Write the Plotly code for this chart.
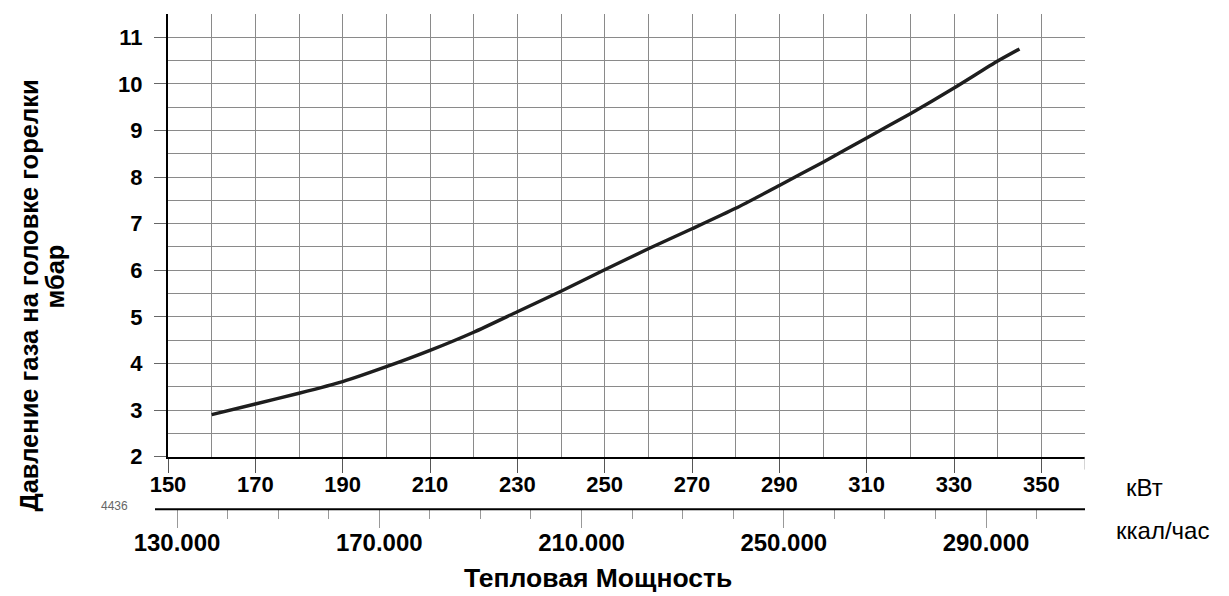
import plotly.graph_objects as go

# ---- data ----
power_kw = [160, 170, 180, 190, 200, 210, 220, 230, 240, 250, 260, 270, 280, 290, 300, 310, 320, 330, 340, 345]
pressure_mbar = [2.90, 3.13, 3.36, 3.61, 3.93, 4.28, 4.67, 5.11, 5.55, 6.01, 6.46, 6.89, 7.33, 7.82, 8.32, 8.84, 9.36, 9.91, 10.49, 10.75]

kw_ticks = [150, 170, 190, 210, 230, 250, 270, 290, 310, 330, 350]
y_ticks = [2, 3, 4, 5, 6, 7, 8, 9, 10, 11]
kcal_ticks = [130000, 170000, 210000, 250000, 290000]
kcal_labels = ["130.000", "170.000", "210.000", "250.000", "290.000"]

# page has an 8px body margin; figure sized to fit the window
OFF = 8
W, H = 1229 - OFF, 596 - OFF
L = 168 - OFF
R = W - (1085 - OFF)
T = 14 - OFF
B = H - (580 - OFF)
paper_h = H - T - B
paper_w = W - L - R


def py(page_px):
    return (H - B - (page_px - OFF)) / paper_h


def pxx(page_px):
    return (page_px - OFF - L) / paper_w


FONT = "Liberation Sans, Arial, sans-serif"
GRID = "#8a8a8a"

fig = go.Figure()
fig.add_trace(go.Scatter(
    x=power_kw, y=pressure_mbar, mode="lines",
    line=dict(color="#1e1e1e", width=3.4, shape="spline", smoothing=0.6),
    showlegend=False, hoverinfo="skip",
))
# invisible trace to activate the secondary axis
fig.add_trace(go.Scatter(x=[kcal_ticks[0]], y=[None], xaxis="x2", yaxis="y",
                         mode="markers", showlegend=False, hoverinfo="skip"))

fig.update_layout(
    width=W, height=H,
    margin=dict(l=L, r=R, t=T, b=B),
    paper_bgcolor="white", plot_bgcolor="white",
    font=dict(family=FONT, color="black"),
    xaxis=dict(
        range=[150, 360], tickmode="array", tickvals=kw_ticks,
        ticks="outside", ticklen=14, tickwidth=1, tickcolor="#555",
        showline=True, linecolor="black", linewidth=2,
        showgrid=True, gridcolor=GRID, gridwidth=1,
        minor=dict(dtick=10, tick0=150, showgrid=True, gridcolor=GRID, gridwidth=1, ticks=""),
        tickfont=dict(family=FONT, size=22, weight="bold", color="black"),
        anchor="y", zeroline=False, ticklabelstandoff=-7,
    ),
    xaxis2=dict(
        range=[128220, 309580], overlaying="x", anchor="free", position=py(512),
        side="bottom", tickmode="array", tickvals=kcal_ticks, ticktext=kcal_labels,
        ticks="outside", ticklen=18, tickwidth=1, tickcolor="#999",
        minor=dict(tick0=130000, dtick=10000, ticks="outside", ticklen=9, tickwidth=1, tickcolor="#999", showgrid=False),
        showline=False, showgrid=False, zeroline=False,
        tickfont=dict(family=FONT, size=24, weight="bold", color="black"),
        ticklabelstandoff=-6,
    ),
    yaxis=dict(
        range=[2, 11.5], domain=[py(459), 1], tickmode="array", tickvals=y_ticks,
        ticks="outside", ticklen=12, tickwidth=1, tickcolor="#666",
        showline=True, linecolor="black", linewidth=2,
        showgrid=True, gridcolor=GRID, gridwidth=1,
        minor=dict(dtick=0.5, tick0=2, showgrid=True, gridcolor=GRID, gridwidth=1, ticks=""),
        tickfont=dict(family=FONT, size=22, weight="bold", color="black"),
        zeroline=False, ticklabelstandoff=7,
    ),
)

# secondary axis line (extends slightly left of the plot)
fig.add_shape(type="line", xref="paper", yref="paper",
              x0=pxx(155), x1=pxx(1085), y0=py(512), y1=py(512),
              line=dict(color="black", width=2))
# short tick below the right edge of the kW axis
fig.add_shape(type="line", xref="x", yref="paper", x0=360, x1=360,
              y0=py(459), y1=py(472), line=dict(color="#aaa", width=1))

ann = [
    dict(text="Давление газа на головке горелки", x=pxx(28), y=py(297), textangle=-90,
         font=dict(size=25.5, weight="bold")),
    dict(text="мбар", x=pxx(55), y=py(278), textangle=-90, font=dict(size=25.5, weight="bold")),
    dict(text="Тепловая Мощность", x=pxx(598), y=py(581), font=dict(size=26.5, weight="bold")),
    dict(text="кВт", x=pxx(1144), y=py(490), font=dict(size=24)),
    dict(text="ккал/час", x=pxx(1162), y=py(533), font=dict(size=24)),
    dict(text="4436", x=pxx(114), y=py(509), font=dict(size=12, color="#666")),
]
for a in ann:
    a["font"]["family"] = FONT
    a["font"].setdefault("color", "black")
    fig.add_annotation(xref="paper", yref="paper", showarrow=False,
                       xanchor="center", yanchor="middle", **a)

fig.write_html("out.html")
